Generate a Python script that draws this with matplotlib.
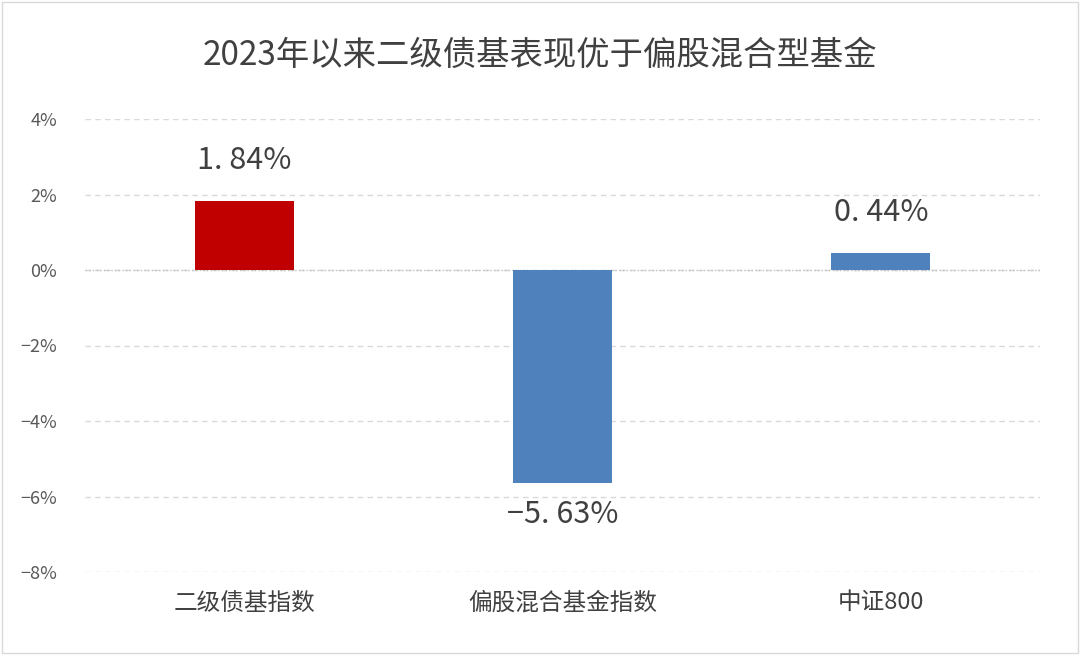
import matplotlib
matplotlib.use("Agg")
import matplotlib.pyplot as plt
from matplotlib.ticker import FuncFormatter

categories = ["二级债基指数", "偏股混合基金指数", "中证800"]
values = [1.84, -5.63, 0.44]
colors = ["#C00000", "#4F81BD", "#4F81BD"]
title = "2023年以来二级债基表现优于偏股混合型基金"

plt.rcParams["font.family"] = ["Noto Sans CJK SC", "DejaVu Sans"]
fig = plt.figure(figsize=(10.8, 6.55), dpi=100)
ax = fig.add_axes([85/1080, 1-572/655, 955/1080, 453/655])

x = range(len(categories))
ax.bar(x, values, width=0.31, color=colors, zorder=3)
ax.set_xlim(-0.5, 2.5)
ax.set_ylim(-8, 4)
ax.set_yticks(range(-8, 5, 2))
ax.yaxis.set_major_formatter(FuncFormatter(lambda v, p: f"{v:.0f}%".replace("-", "−")))
ax.grid(axis="y", color="#D9D9D9", linestyle=(0, (4, 3)), linewidth=1, zorder=0)
ax.axhline(0, color="#BFBFBF", linestyle=":", linewidth=1, zorder=2)
for s in ax.spines.values():
    s.set_visible(False)
ax.tick_params(axis="y", length=0, labelsize=13, labelcolor="#595959", pad=20)
ax.set_xticks(list(x))
ax.set_xticklabels(categories, fontsize=17, color="#404040")
ax.tick_params(axis="x", length=0, pad=14)

for i, v in enumerate(values):
    lab = f"{v:.2f}%".replace(".", ". ").replace("-", "−")
    if v >= 0:
        ax.annotate(lab, (i, v), xytext=(0, 18), textcoords="offset points",
                    ha="center", va="bottom", fontsize=22, color="#404040")
    else:
        ax.annotate(lab, (i, v), xytext=(0, -12), textcoords="offset points",
                    ha="center", va="top", fontsize=22, color="#404040")

fig.text(0.5, 1-55/655, title, ha="center", va="center", fontsize=24, color="#404040")
fig.add_artist(plt.Rectangle((2/1080, 2/655), 1-4/1080, 1-4/655, transform=fig.transFigure,
                             fill=False, edgecolor="#D9D9D9", linewidth=1))
fig.savefig("out.png", dpi=100)
